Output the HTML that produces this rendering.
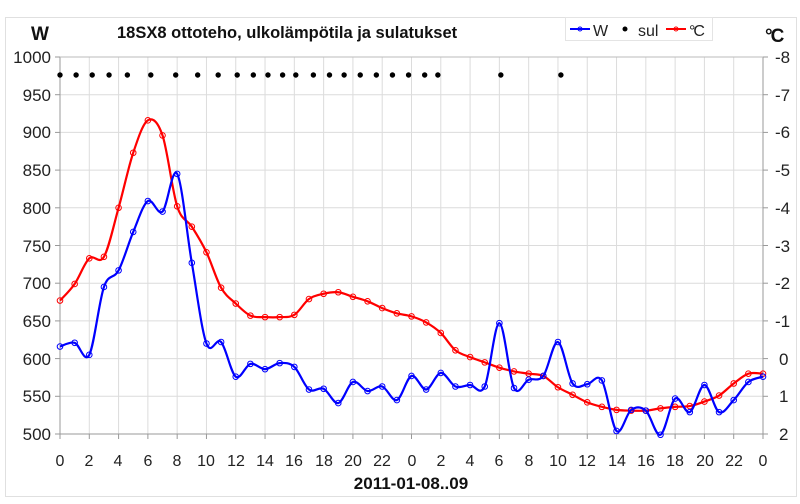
<!DOCTYPE html>
<html><head><meta charset="utf-8"><style>
body{margin:0;background:#fff;}
svg text{font-family:"Liberation Sans",sans-serif;}
</style></head><body>
<svg id="s" width="800" height="499" xmlns="http://www.w3.org/2000/svg">
<rect x="5.5" y="17.5" width="791" height="479" fill="#fff" stroke="#e0e0e0"/>
<g id="grid" stroke="#dcdcdc" stroke-width="1"></g>
<line x1="60" y1="57" x2="60" y2="434" stroke="#999"/>
<line x1="763" y1="57" x2="763" y2="434" stroke="#999"/>
<line x1="60" y1="57" x2="763" y2="57" stroke="#bbb"/>
<line x1="60" y1="434" x2="763" y2="434" stroke="#999"/>
<g id="ticks" stroke="#999"></g>
<g font-size="17" fill="#222" text-anchor="end">
<text x="51" y="63">1000</text><text x="51" y="101">950</text><text x="51" y="138">900</text><text x="51" y="176">850</text><text x="51" y="214">800</text><text x="51" y="252">750</text><text x="51" y="289">700</text><text x="51" y="327">650</text><text x="51" y="365">600</text><text x="51" y="402">550</text><text x="51" y="440">500</text>
</g>
<g font-size="17" fill="#222" text-anchor="start">
<text x="775" y="63">-8</text><text x="775" y="101">-7</text><text x="775" y="138">-6</text><text x="775" y="176">-5</text><text x="775" y="214">-4</text><text x="775" y="252">-3</text><text x="775" y="289">-2</text><text x="775" y="327">-1</text><text x="779" y="365">0</text><text x="779" y="402">1</text><text x="779" y="440">2</text>
</g>
<g font-size="16" fill="#222" text-anchor="middle">
<text x="60" y="466">0</text><text x="89" y="466">2</text><text x="118" y="466">4</text><text x="148" y="466">6</text><text x="177" y="466">8</text><text x="206" y="466">10</text><text x="236" y="466">12</text><text x="265" y="466">14</text><text x="294" y="466">16</text><text x="324" y="466">18</text><text x="353" y="466">20</text><text x="382" y="466">22</text><text x="412" y="466">0</text><text x="441" y="466">2</text><text x="470" y="466">4</text><text x="499" y="466">6</text><text x="529" y="466">8</text><text x="558" y="466">10</text><text x="587" y="466">12</text><text x="617" y="466">14</text><text x="646" y="466">16</text><text x="675" y="466">18</text><text x="705" y="466">20</text><text x="734" y="466">22</text><text x="763" y="466">0</text>
</g>
<text x="411" y="489" font-size="17" font-weight="bold" text-anchor="middle" fill="#111">2011-01-08..09</text>
<text x="117" y="38" font-size="16.5" font-weight="bold" fill="#111">18SX8 ottoteho, ulkolämpötila ja sulatukset</text>
<text x="31" y="40" font-size="19" font-weight="bold" fill="#111">W</text>
<text x="765" y="42" font-size="19" font-weight="bold" fill="#111" letter-spacing="-2">°C</text>
<rect x="565.5" y="17.5" width="147" height="23" fill="#fff" stroke="#e4e4e4"/>
<line x1="570" y1="29" x2="590" y2="29" stroke="#00f" stroke-width="2"/><circle cx="580" cy="29" r="2" fill="none" stroke="#00f"/>
<text x="593" y="36" font-size="16" fill="#222">W</text>
<circle cx="625" cy="29" r="2.5" fill="#000"/>
<text x="638" y="36" font-size="16" fill="#222">sul</text>
<line x1="666" y1="29" x2="686" y2="29" stroke="#f00" stroke-width="2"/><circle cx="676" cy="29" r="2" fill="none" stroke="#f00"/>
<text x="689" y="36" font-size="16" fill="#222" letter-spacing="-2">°C</text>
<g id="data"></g>
</svg>
<script>
var NS="http://www.w3.org/2000/svg";
function el(p,t,a){var e=document.createElementNS(NS,t);for(var k in a)e.setAttribute(k,a[k]);p.appendChild(e);return e;}
var X=function(h){return 60+h*703/48;}, Y=function(w){return 57+(1000-w)*377/500;};
var g=document.getElementById('grid'),tk=document.getElementById('ticks');
for(var i=1;i<24;i++)el(g,'line',{x1:X(2*i),x2:X(2*i),y1:57,y2:434});
for(var i=1;i<10;i++)el(g,'line',{x1:60,x2:763,y1:Y(500+50*i),y2:Y(500+50*i)});
for(var i=0;i<=24;i++)el(tk,'line',{x1:X(2*i),x2:X(2*i),y1:434,y2:439});
for(var i=0;i<=10;i++){el(tk,'line',{x1:55,x2:60,y1:Y(500+50*i),y2:Y(500+50*i)});el(tk,'line',{x1:763,x2:768,y1:Y(500+50*i),y2:Y(500+50*i)});}
var W=[616,621,605,695,717,768,809,795,845,727,620,622,576,593,586,594,589,559,560,541,569,557,563,545,577,559,581,563,565,563,647,561,572,577,622,567,566,571,504,532,531,499,547,529,565,529,545,569,576];
var T=[677,699,733,735,800,873,916,896,802,775,741,694,673,657,655,655,658,679,686,688,682,676,667,660,656,648,634,611,602,595,588,583,580,577,562,552,542,536,532,531,531,534,536,537,543,551,567,580,580];
var D=el(document.getElementById('data'),'g',{});
function curve(arr,col){var p=arr.map(function(v,i){return[X(i),Y(v)];});var d='M'+p[0][0]+','+p[0][1];
for(var i=0;i<p.length-1;i++){var p0=p[Math.max(0,i-1)],p1=p[i],p2=p[i+1],p3=p[Math.min(p.length-1,i+2)];var t=1/6;
d+=' C'+(p1[0]+(p2[0]-p0[0])*t)+','+(p1[1]+(p2[1]-p0[1])*t)+' '+(p2[0]-(p3[0]-p1[0])*t)+','+(p2[1]-(p3[1]-p1[1])*t)+' '+p2[0]+','+p2[1];}
el(D,'path',{d:d,fill:'none',stroke:col,'stroke-width':2.2});
p.forEach(function(q){el(D,'circle',{cx:q[0],cy:q[1],r:2.8,fill:'none',stroke:col,'stroke-width':1});});}
curve(T,'#f00');curve(W,'#00f');
[0,1.1,2.2,3.35,4.6,6.2,7.9,9.4,10.8,12.1,13.2,14.2,15.2,16.1,17.3,18.4,19.4,20.5,21.6,22.7,23.8,24.9,25.8,30.1,34.2].forEach(function(h){el(D,'circle',{cx:X(h),cy:75,r:2.7,fill:'#000'});});
</script>
</body></html>
